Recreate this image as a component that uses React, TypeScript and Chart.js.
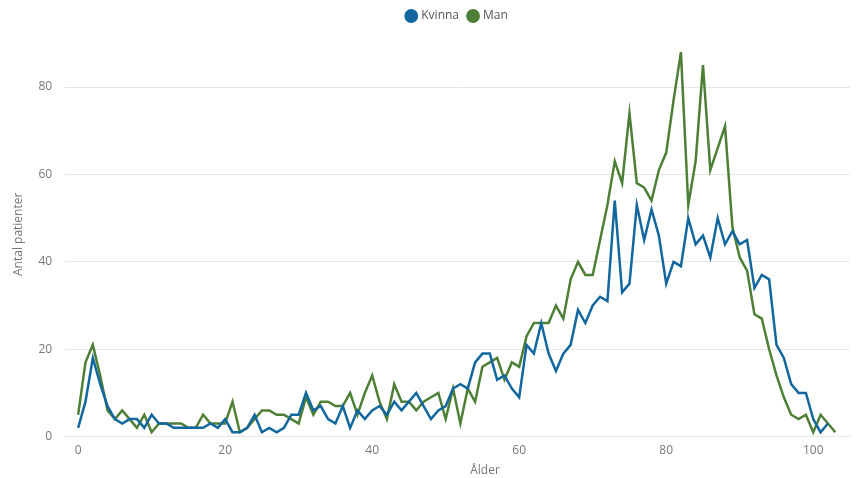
import React, { useEffect, useRef } from "react";
import { Chart, registerables } from "chart.js";

Chart.register(...registerables);

// Age 0..102 (Kvinna), 0..103 (Man)
const kvinna = [
  2, 8, 18, 12, 7, 4, 3, 4, 4, 2, 5, 3, 3, 2, 2, 2, 2, 2, 3, 2, 4,
  1, 1, 2, 5, 1, 2, 1, 2, 5, 5, 10, 6, 7, 4, 3, 7, 2, 6, 4, 6,
  7, 5, 8, 6, 8, 10, 7, 4, 6, 7, 11, 12, 11, 17, 19, 19, 13, 14, 11, 9,
  21, 19, 26, 19, 15, 19, 21, 29, 26, 30, 32, 31, 54, 33, 35, 53, 45, 52, 46, 35,
  40, 39, 50, 44, 46, 41, 50, 44, 47, 44, 45, 34, 37, 36, 21, 18, 12, 10, 10, 4,
  1, 3,
];

const man = [
  5, 17, 21, 14, 6, 4, 6, 4, 2, 5, 1, 3, 3, 3, 3, 2, 2, 5, 3, 3, 3,
  8, 1, 2, 4, 6, 6, 5, 5, 4, 3, 9, 5, 8, 8, 7, 7, 10, 5, 10, 14,
  8, 4, 12, 8, 8, 6, 8, 9, 10, 4, 11, 3, 11, 8, 16, 17, 18, 13, 17, 16,
  23, 26, 26, 26, 30, 27, 36, 40, 37, 37, 45, 53, 63, 58, 74, 58, 57, 54, 61, 65,
  77, 88, 53, 63, 85, 61, 66, 71, 48, 41, 38, 28, 27, 20, 14, 9, 5, 4, 5, 1,
  5, 3, 1,
];

const seriesNames = ["Kvinna", "Man"];
const xTickValues = [0, 20, 40, 60, 80, 100];
const yTickValues = [0, 20, 40, 60, 80];
const xTitle = "Ålder";
const yTitle = "Antal patienter";

const BLUE = "#12679f";
const GREEN = "#4e7f37";
const FONT = "'Segoe UI', 'Open Sans', 'Noto Sans', sans-serif";

const xTitlePlugin = {
  id: "xTitlePlugin",
  afterDraw(chart: any) {
    const { ctx, chartArea } = chart;
    ctx.save();
    ctx.font = `12px ${FONT}`;
    ctx.fillStyle = "#777777";
    ctx.textAlign = "center";
    ctx.textBaseline = "middle";
    ctx.fillText(xTitle, chartArea.left + chartArea.width * 0.535, 471);
    ctx.restore();
  },
};

export default function App() {
  const ref = useRef<HTMLCanvasElement | null>(null);

  useEffect(() => {
    if (!ref.current) return;
    const chart = new Chart(ref.current, {
      type: "line",
      data: {
        datasets: [
          {
            label: seriesNames[0],
            data: kvinna.map((v, i) => ({ x: i, y: v })),
            borderColor: BLUE,
            backgroundColor: BLUE,
            borderWidth: 2.5,
            pointRadius: 0,
            tension: 0,
          },
          {
            label: seriesNames[1],
            data: man.map((v, i) => ({ x: i, y: v })),
            borderColor: GREEN,
            backgroundColor: GREEN,
            borderWidth: 2.5,
            pointRadius: 0,
            tension: 0,
          },
        ],
      },
      options: {
        responsive: false,
        animation: false,
        events: [],
        layout: { padding: { left: 11, right: 6, top: 0, bottom: 13 } },
        plugins: {
          tooltip: { enabled: false },
          legend: {
            position: "top",
            align: "center",
            fullSize: false,
            labels: {
              usePointStyle: true,
              pointStyle: "circle",
              boxWidth: 8,
              boxHeight: 8,
              padding: 10,
              color: "#555555",
              font: { family: FONT, size: 12 },
            },
          },
        },
        scales: {
          x: {
            type: "linear",
            min: -1.77,
            max: 105,
            afterBuildTicks: (axis: any) => {
              axis.ticks = xTickValues.map((v) => ({ value: v }));
            },
            grid: { display: false, drawTicks: false },
            border: { display: false },
            ticks: {
              color: "#777777",
              padding: 7,
              maxRotation: 0,
              autoSkip: false,
              font: { family: FONT, size: 12 },
            },
          },
          y: {
            type: "linear",
            min: 0,
            max: 92.6,
            afterBuildTicks: (axis: any) => {
              axis.ticks = yTickValues.map((v) => ({ value: v }));
            },
            grid: { color: "#e6e6e6", lineWidth: 1, drawTicks: false },
            border: { display: false },
            ticks: {
              color: "#777777",
              padding: 13,
              font: { family: FONT, size: 12 },
            },
            title: {
              display: true,
              text: yTitle,
              color: "#777777",
              padding: { top: 0, bottom: 0 },
              font: { family: FONT, size: 12 },
            },
          },
        },
      },
      plugins: [xTitlePlugin],
    });
    return () => chart.destroy();
  }, []);

  return (
    <div style={{ position: "absolute", left: 0, top: 0, width: 856, height: 478 }}>
      <canvas ref={ref} width={856} height={478} style={{ width: 856, height: 478 }} />
    </div>
  );
}
